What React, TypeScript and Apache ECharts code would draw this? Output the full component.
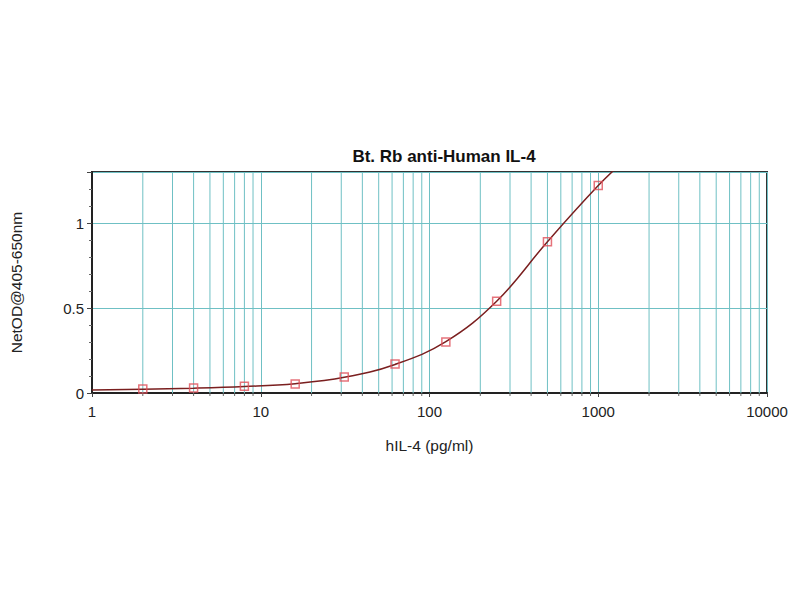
import React, { useEffect, useRef } from "react";
import * as echarts from "echarts";

const concentrations = [2, 4, 8, 16, 31.25, 62.5, 125, 250, 500, 1000];
const odValues = [0.023, 0.03, 0.04, 0.053, 0.094, 0.17, 0.3, 0.54, 0.89, 1.22];

// fitted curve
const curveX = [1, 2, 4, 8, 16, 31.25, 62.5, 125, 250, 500, 1000, 1400];
const curveY = [0.018, 0.022, 0.028, 0.038, 0.055, 0.092, 0.168, 0.302, 0.54, 0.89, 1.22, 1.36];

const minorGridX = [
  2, 3, 4, 5, 6, 7, 8, 9,
  20, 30, 40, 50, 60, 70, 80, 90,
  200, 300, 400, 500, 600, 700, 800, 900,
  2000, 3000, 4000, 5000, 6000, 7000, 8000, 9000,
];

const title = "Bt. Rb anti-Human IL-4";
const xName = "hIL-4 (pg/ml)";
const yName = "NetOD@405-650nm";

export default function App() {
  const ref = useRef<HTMLDivElement>(null);
  useEffect(() => {
    if (!ref.current) return;
    const chart = echarts.init(ref.current, null, { renderer: "svg" });
    const gridColor = "#6fc0c4";
    const font = "Arial, Liberation Sans";
    chart.setOption({
      animation: false,
      backgroundColor: "#ffffff",
      title: {
        text: title,
        left: 439,
        textAlign: "center",
        top: 143,
        textStyle: { fontFamily: font, fontSize: 17, fontWeight: "bold", color: "#111" },
      },
      grid: {
        left: 91,
        right: 33,
        top: 172,
        bottom: 207,
        show: true,
        borderColor: "#333",
        borderWidth: 2,
        backgroundColor: "transparent",
      },
      xAxis: {
        type: "log",
        logBase: 10,
        min: 1,
        max: 10000,
        name: xName,
        nameLocation: "middle",
        nameGap: 44,
        nameTextStyle: { fontFamily: font, fontSize: 15.5, color: "#222" },
        axisLine: { show: true, lineStyle: { color: "#222", width: 2 } },
        axisTick: { show: true, length: 4, lineStyle: { color: "#444" } },
        axisLabel: {
          fontFamily: font,
          fontSize: 15,
          color: "#222",
          margin: 11,
          formatter: (v: number) => String(Math.round(v)),
        },
        splitLine: { show: true, lineStyle: { color: gridColor, width: 1 } },
      },
      yAxis: {
        type: "value",
        min: 0,
        max: 1.3,
        interval: 0.5,
        name: yName,
        nameLocation: "middle",
        nameGap: 68,
        nameTextStyle: { fontFamily: font, fontSize: 15.5, color: "#222" },
        axisLine: { show: true, lineStyle: { color: "#222", width: 2 } },
        axisTick: { show: true, length: 5, lineStyle: { color: "#444" } },
        minorTick: { show: true, splitNumber: 5, length: 3, lineStyle: { color: "#666" } },
        axisLabel: {
          fontFamily: font,
          fontSize: 15,
          color: "#222",
          margin: 8,
          showMaxLabel: false,
          formatter: (v: number) => (Math.abs(v - 1.3) < 1e-6 ? "" : String(v)),
        },
        splitLine: { show: true, lineStyle: { color: gridColor, width: 1 } },
      },
      series: [
        {
          type: "custom",
          silent: true,
          z: 1,
          data: minorGridX.map((v) => [v]),
          renderItem: (params: any, api: any) => {
            const p = api.coord([api.value(0), 0]);
            const cs = params.coordSys;
            return {
              type: "group",
              children: [
                {
                  type: "line",
                  shape: { x1: p[0], y1: cs.y, x2: p[0], y2: cs.y + cs.height },
                  style: { stroke: gridColor, lineWidth: 1 },
                },
                {
                  type: "line",
                  shape: { x1: p[0], y1: cs.y + cs.height, x2: p[0], y2: cs.y + cs.height + 3 },
                  style: { stroke: "#666", lineWidth: 1 },
                },
              ],
            };
          },
        },
        {
          type: "line",
          data: curveX.map((x, i) => [x, curveY[i]]),
          smooth: 0.4,
          showSymbol: false,
          clip: true,
          z: 3,
          lineStyle: { color: "#7a1f1f", width: 1.5 },
        },
        {
          type: "scatter",
          data: concentrations.map((x, i) => [x, odValues[i]]),
          symbol: "rect",
          symbolSize: 8,
          z: 4,
          itemStyle: { color: "rgba(255,255,255,0)", borderColor: "#e0505a", borderWidth: 1.5 },
        },
      ],
    });
    return () => chart.dispose();
  }, []);
  return <div ref={ref} style={{ width: 800, height: 600, margin: -8 }} />;
}
